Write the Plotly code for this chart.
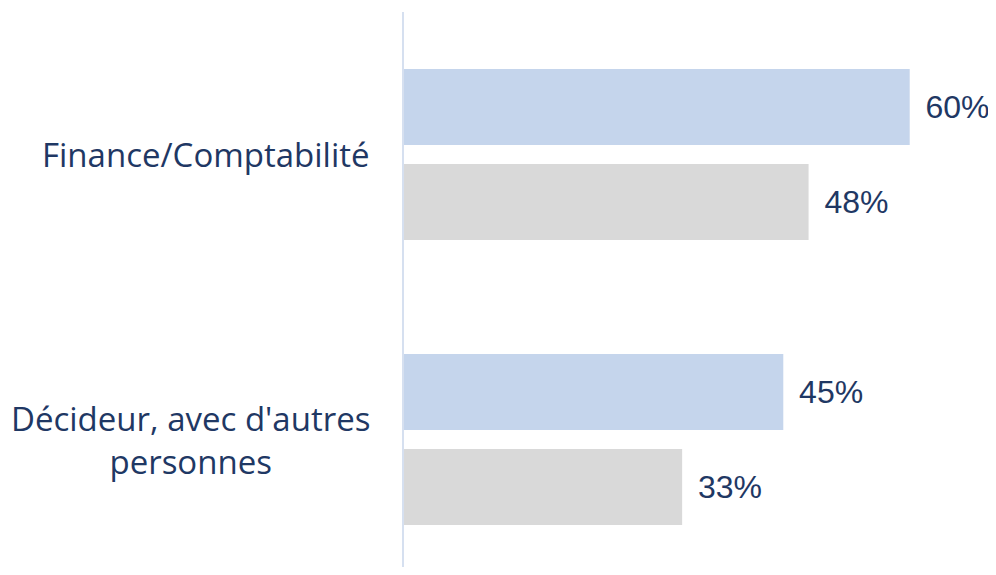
import plotly.graph_objects as go

categories = ["Finance/Comptabilité", "Décideur, avec d'autres<br>personnes"]
series_a = [60, 45]
series_b = [48, 33]
labels_a = ["60%", "45%"]
labels_b = ["48%", "33%"]

NAVY = "#1F3864"
PAD = "\u2009\u2009"
fig = go.Figure()
fig.add_trace(go.Bar(
    y=categories, x=series_a, orientation="h", marker=dict(color="#C5D5EC", line=dict(width=0)),
    text=[PAD + t for t in labels_a], textposition="outside", cliponaxis=False,
    textfont=dict(family="Liberation Sans, Arial", size=32, color=NAVY),
))
fig.add_trace(go.Bar(
    y=categories, x=series_b, orientation="h", marker=dict(color="#D9D9D9", line=dict(width=0)),
    text=[PAD + t for t in labels_b], textposition="outside", cliponaxis=False,
    textfont=dict(family="Liberation Sans, Arial", size=32, color=NAVY),
))
for cat in categories:
    fig.add_annotation(
        x=0, xref="paper", y=cat, yref="y", text=cat, showarrow=False,
        xanchor="right", yanchor="middle", align="center", xshift=-32,
        font=dict(family="Open Sans", size=33, color=NAVY),
    )
fig.update_layout(
    width=988, height=559,
    margin=dict(l=396, r=2, t=4, b=0),
    paper_bgcolor="white", plot_bgcolor="white",
    barmode="group", bargap=0.3333, bargroupgap=0.2,
    showlegend=False,
)
fig.update_xaxes(range=[0, 70], visible=False, showgrid=False, zeroline=False)
fig.update_yaxes(
    type="category", range=[1.447, -0.5], showgrid=False, zeroline=False,
    showline=True, linecolor="#D6E0F0", linewidth=2,
    showticklabels=False, ticks="",
)
fig.write_html("out.html")
